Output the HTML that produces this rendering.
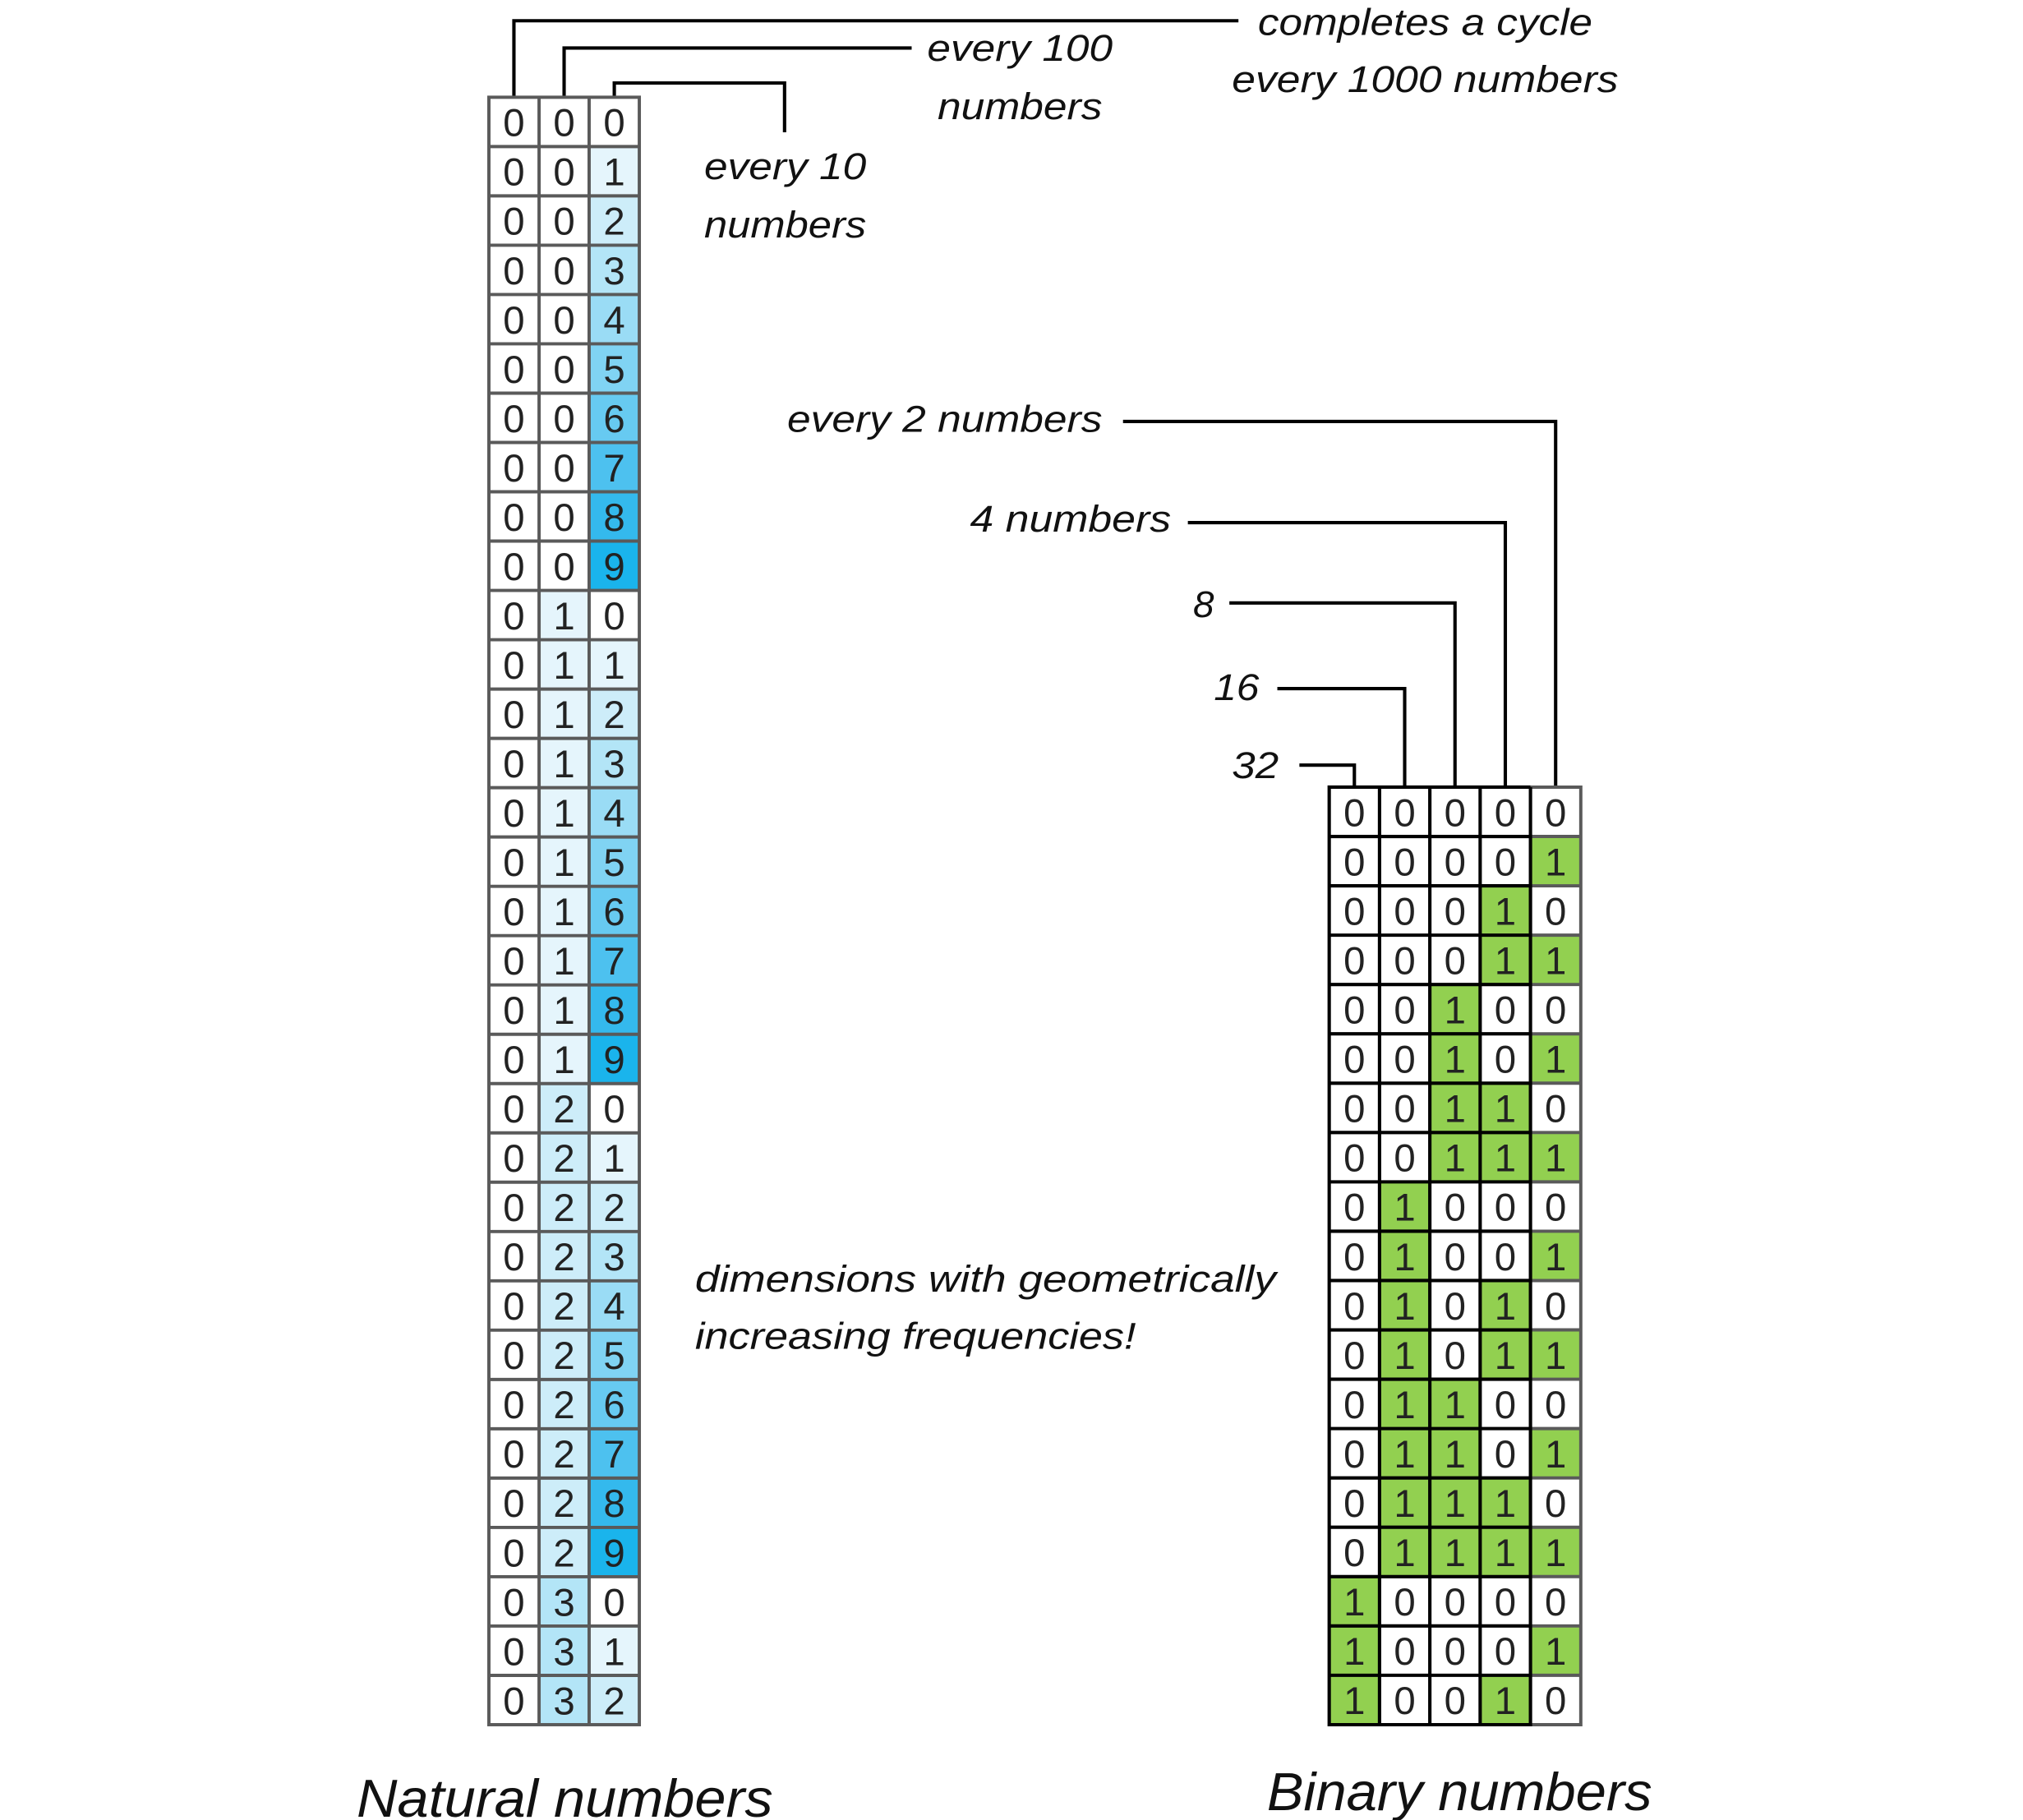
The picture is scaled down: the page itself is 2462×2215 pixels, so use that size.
<!DOCTYPE html>
<html><head><meta charset="utf-8"><style>
html,body{margin:0;padding:0;background:#fff;}
svg{display:block;}
.d{font-family:"Liberation Sans",sans-serif;font-size:30px;fill:#222;text-anchor:middle;}
.l{font-family:"Liberation Sans",sans-serif;font-style:italic;font-size:29px;fill:#111;}
.t{font-family:"Liberation Sans",sans-serif;font-style:italic;font-size:41px;fill:#111;}
</style></head><body>
<svg width="2462" height="2215" viewBox="0 0 1560 1403.5" xmlns="http://www.w3.org/2000/svg">
<rect x="0" y="0" width="1560" height="1403.5" fill="#fff"/>
<!-- connectors -->
<g fill="none" stroke="#000" stroke-width="2.6">
<path d="M396.3 75V16H955"/>
<path d="M435 75V37H703"/>
<path d="M473.7 75V64H605V102"/>
<path d="M1199.6 607V325H866"/>
<path d="M1160.8 607V403H916"/>
<path d="M1122 607V465H948"/>
<path d="M1083.2 607V531H985"/>
<path d="M1044.4 607V590H1002"/>
</g>
<!-- labels -->
<text class="l" x="970" y="27" textLength="258" lengthAdjust="spacingAndGlyphs">completes a cycle</text>
<text class="l" x="950" y="71" textLength="298" lengthAdjust="spacingAndGlyphs">every 1000 numbers</text>
<text class="l" x="715" y="47" textLength="143" lengthAdjust="spacingAndGlyphs">every 100</text>
<text class="l" x="723" y="92" textLength="127" lengthAdjust="spacingAndGlyphs">numbers</text>
<text class="l" x="543" y="138" textLength="125" lengthAdjust="spacingAndGlyphs">every 10</text>
<text class="l" x="543" y="183" textLength="125" lengthAdjust="spacingAndGlyphs">numbers</text>
<text class="l" x="607" y="333" textLength="243" lengthAdjust="spacingAndGlyphs">every 2 numbers</text>
<text class="l" x="748" y="410" textLength="155" lengthAdjust="spacingAndGlyphs">4 numbers</text>
<text class="l" x="920" y="476">8</text>
<text class="l" x="936" y="540" textLength="35" lengthAdjust="spacingAndGlyphs">16</text>
<text class="l" x="950" y="600" textLength="36" lengthAdjust="spacingAndGlyphs">32</text>
<text class="l" x="536" y="996" textLength="448" lengthAdjust="spacingAndGlyphs">dimensions with geometrically</text>
<text class="l" x="536" y="1040" textLength="340" lengthAdjust="spacingAndGlyphs">increasing frequencies!</text>
<text class="t" x="275" y="1401" textLength="321" lengthAdjust="spacingAndGlyphs">Natural numbers</text>
<text class="t" x="977" y="1396" textLength="297" lengthAdjust="spacingAndGlyphs">Binary numbers</text>

<!-- LEFT GRID fills -->
<g>
<rect x="377" y="75" width="116" height="1255" fill="#fff"/>
<!-- middle column fills -->
<rect x="415.7" y="455.3" width="38.6" height="380.3" fill="#e5f5fc"/>
<rect x="415.7" y="835.6" width="38.6" height="380.3" fill="#cdedf9"/>
<rect x="415.7" y="1215.9" width="38.6" height="114.1" fill="#b3e5f7"/>
</g>
<g id="c3">
<rect x="454.3" y="113.03" width="38.7" height="38.03" fill="#e5f5fc"/>
<rect x="454.3" y="151.06" width="38.7" height="38.03" fill="#cdedf9"/>
<rect x="454.3" y="189.09" width="38.7" height="38.03" fill="#b3e5f7"/>
<rect x="454.3" y="227.12" width="38.7" height="38.03" fill="#9adcf5"/>
<rect x="454.3" y="265.15" width="38.7" height="38.03" fill="#80d3f3"/>
<rect x="454.3" y="303.18" width="38.7" height="38.03" fill="#67caf1"/>
<rect x="454.3" y="341.21" width="38.7" height="38.03" fill="#4dc1ef"/>
<rect x="454.3" y="379.24" width="38.7" height="38.03" fill="#34b9ed"/>
<rect x="454.3" y="417.27" width="38.7" height="38.03" fill="#1ab4ec"/>
</g>
<use href="#c3" y="380.3"/>
<use href="#c3" y="760.6"/>
<rect x="454.3" y="1253.93" width="38.7" height="38.03" fill="#e5f5fc"/>
<rect x="454.3" y="1291.96" width="38.7" height="38.04" fill="#cdedf9"/>

<!-- LEFT GRID lines -->
<g fill="none" stroke="#5a5a5a" stroke-width="2.5">
<rect x="377" y="75" width="116" height="1255"/>
<path d="M415.7 75V1330M454.3 75V1330
M377 113.03H493M377 151.06H493M377 189.09H493M377 227.12H493M377 265.15H493M377 303.18H493M377 341.21H493M377 379.24H493M377 417.27H493M377 455.3H493
M377 493.33H493M377 531.36H493M377 569.39H493M377 607.42H493M377 645.45H493M377 683.48H493M377 721.51H493M377 759.54H493M377 797.57H493M377 835.6H493
M377 873.63H493M377 911.66H493M377 949.69H493M377 987.72H493M377 1025.75H493M377 1063.78H493M377 1101.81H493M377 1139.84H493M377 1177.87H493M377 1215.9H493
M377 1253.93H493M377 1291.96H493"/>
</g>

<!-- LEFT digits -->
<g class="d">
<g transform="translate(0,75)"><text x="396.3" y="30">0</text><text x="435" y="30">0</text><text x="473.7" y="30">0</text></g>
<g transform="translate(0,113.03)"><text x="396.3" y="30">0</text><text x="435" y="30">0</text><text x="473.7" y="30">1</text></g>
<g transform="translate(0,151.06)"><text x="396.3" y="30">0</text><text x="435" y="30">0</text><text x="473.7" y="30">2</text></g>
<g transform="translate(0,189.09)"><text x="396.3" y="30">0</text><text x="435" y="30">0</text><text x="473.7" y="30">3</text></g>
<g transform="translate(0,227.12)"><text x="396.3" y="30">0</text><text x="435" y="30">0</text><text x="473.7" y="30">4</text></g>
<g transform="translate(0,265.15)"><text x="396.3" y="30">0</text><text x="435" y="30">0</text><text x="473.7" y="30">5</text></g>
<g transform="translate(0,303.18)"><text x="396.3" y="30">0</text><text x="435" y="30">0</text><text x="473.7" y="30">6</text></g>
<g transform="translate(0,341.21)"><text x="396.3" y="30">0</text><text x="435" y="30">0</text><text x="473.7" y="30">7</text></g>
<g transform="translate(0,379.24)"><text x="396.3" y="30">0</text><text x="435" y="30">0</text><text x="473.7" y="30">8</text></g>
<g transform="translate(0,417.27)"><text x="396.3" y="30">0</text><text x="435" y="30">0</text><text x="473.7" y="30">9</text></g>
<g transform="translate(0,455.3)"><text x="396.3" y="30">0</text><text x="435" y="30">1</text><text x="473.7" y="30">0</text></g>
<g transform="translate(0,493.33)"><text x="396.3" y="30">0</text><text x="435" y="30">1</text><text x="473.7" y="30">1</text></g>
<g transform="translate(0,531.36)"><text x="396.3" y="30">0</text><text x="435" y="30">1</text><text x="473.7" y="30">2</text></g>
<g transform="translate(0,569.39)"><text x="396.3" y="30">0</text><text x="435" y="30">1</text><text x="473.7" y="30">3</text></g>
<g transform="translate(0,607.42)"><text x="396.3" y="30">0</text><text x="435" y="30">1</text><text x="473.7" y="30">4</text></g>
<g transform="translate(0,645.45)"><text x="396.3" y="30">0</text><text x="435" y="30">1</text><text x="473.7" y="30">5</text></g>
<g transform="translate(0,683.48)"><text x="396.3" y="30">0</text><text x="435" y="30">1</text><text x="473.7" y="30">6</text></g>
<g transform="translate(0,721.51)"><text x="396.3" y="30">0</text><text x="435" y="30">1</text><text x="473.7" y="30">7</text></g>
<g transform="translate(0,759.54)"><text x="396.3" y="30">0</text><text x="435" y="30">1</text><text x="473.7" y="30">8</text></g>
<g transform="translate(0,797.57)"><text x="396.3" y="30">0</text><text x="435" y="30">1</text><text x="473.7" y="30">9</text></g>
<g transform="translate(0,835.6)"><text x="396.3" y="30">0</text><text x="435" y="30">2</text><text x="473.7" y="30">0</text></g>
<g transform="translate(0,873.63)"><text x="396.3" y="30">0</text><text x="435" y="30">2</text><text x="473.7" y="30">1</text></g>
<g transform="translate(0,911.66)"><text x="396.3" y="30">0</text><text x="435" y="30">2</text><text x="473.7" y="30">2</text></g>
<g transform="translate(0,949.69)"><text x="396.3" y="30">0</text><text x="435" y="30">2</text><text x="473.7" y="30">3</text></g>
<g transform="translate(0,987.72)"><text x="396.3" y="30">0</text><text x="435" y="30">2</text><text x="473.7" y="30">4</text></g>
<g transform="translate(0,1025.75)"><text x="396.3" y="30">0</text><text x="435" y="30">2</text><text x="473.7" y="30">5</text></g>
<g transform="translate(0,1063.78)"><text x="396.3" y="30">0</text><text x="435" y="30">2</text><text x="473.7" y="30">6</text></g>
<g transform="translate(0,1101.81)"><text x="396.3" y="30">0</text><text x="435" y="30">2</text><text x="473.7" y="30">7</text></g>
<g transform="translate(0,1139.84)"><text x="396.3" y="30">0</text><text x="435" y="30">2</text><text x="473.7" y="30">8</text></g>
<g transform="translate(0,1177.87)"><text x="396.3" y="30">0</text><text x="435" y="30">2</text><text x="473.7" y="30">9</text></g>
<g transform="translate(0,1215.9)"><text x="396.3" y="30">0</text><text x="435" y="30">3</text><text x="473.7" y="30">0</text></g>
<g transform="translate(0,1253.93)"><text x="396.3" y="30">0</text><text x="435" y="30">3</text><text x="473.7" y="30">1</text></g>
<g transform="translate(0,1291.96)"><text x="396.3" y="30">0</text><text x="435" y="30">3</text><text x="473.7" y="30">2</text></g>
</g>

<!-- RIGHT GRID fills -->
<rect x="1025" y="607" width="194" height="723" fill="#fff"/>
<g fill="#92d050">
<!-- col 16 (x1025): rows 16-18 -->
<rect x="1025" y="1215.8" width="38.8" height="114.2"/>
<!-- col 8 (x1063.8): rows 8-15 -->
<rect x="1063.8" y="911.4" width="38.8" height="304.4"/>
<!-- col 4 (x1102.6): rows 4-7, 12-15 -->
<rect x="1102.6" y="759.2" width="38.8" height="152.2"/>
<rect x="1102.6" y="1063.6" width="38.8" height="152.2"/>
<!-- col 2 (x1141.4): rows 2,3,6,7,10,11,14,15,18 -->
<rect x="1141.4" y="683.1" width="38.8" height="76.1"/>
<rect x="1141.4" y="835.3" width="38.8" height="76.1"/>
<rect x="1141.4" y="987.5" width="38.8" height="76.1"/>
<rect x="1141.4" y="1139.7" width="38.8" height="76.1"/>
<rect x="1141.4" y="1291.9" width="38.8" height="38.1"/>
<!-- col 1 (x1180.2): odd rows -->
<rect x="1180.2" y="645.05" width="38.8" height="38.05"/>
<rect x="1180.2" y="721.15" width="38.8" height="38.05"/>
<rect x="1180.2" y="797.25" width="38.8" height="38.05"/>
<rect x="1180.2" y="873.35" width="38.8" height="38.05"/>
<rect x="1180.2" y="949.45" width="38.8" height="38.05"/>
<rect x="1180.2" y="1025.55" width="38.8" height="38.05"/>
<rect x="1180.2" y="1101.65" width="38.8" height="38.05"/>
<rect x="1180.2" y="1177.75" width="38.8" height="38.05"/>
<rect x="1180.2" y="1253.85" width="38.8" height="38.05"/>
</g>
<!-- RIGHT GRID lines -->
<g fill="none" stroke="#5a5a5a" stroke-width="2.5">
<path d="M1180.2 607H1219V1330H1180.2
M1180.2 645.05H1219M1180.2 683.1H1219M1180.2 721.15H1219M1180.2 759.2H1219M1180.2 797.25H1219M1180.2 835.3H1219M1180.2 873.35H1219M1180.2 911.4H1219M1180.2 949.45H1219
M1180.2 987.5H1219M1180.2 1025.55H1219M1180.2 1063.6H1219M1180.2 1101.65H1219M1180.2 1139.7H1219M1180.2 1177.75H1219M1180.2 1215.8H1219M1180.2 1253.85H1219M1180.2 1291.9H1219"/>
</g>
<g fill="none" stroke="#000" stroke-width="2.6">
<path d="M1180.2 607H1025V1330H1180.2V607
M1063.8 607V1330M1102.6 607V1330M1141.4 607V1330
M1025 645.05H1180.2M1025 683.1H1180.2M1025 721.15H1180.2M1025 759.2H1180.2M1025 797.25H1180.2M1025 835.3H1180.2M1025 873.35H1180.2M1025 911.4H1180.2M1025 949.45H1180.2
M1025 987.5H1180.2M1025 1025.55H1180.2M1025 1063.6H1180.2M1025 1101.65H1180.2M1025 1139.7H1180.2M1025 1177.75H1180.2M1025 1215.8H1180.2M1025 1253.85H1180.2M1025 1291.9H1180.2"/>
</g>
<!-- RIGHT digits -->
<g class="d">
<g transform="translate(0,607)"><text x="1044.4" y="30">0</text><text x="1083.2" y="30">0</text><text x="1122" y="30">0</text><text x="1160.8" y="30">0</text><text x="1199.6" y="30">0</text></g>
<g transform="translate(0,645.05)"><text x="1044.4" y="30">0</text><text x="1083.2" y="30">0</text><text x="1122" y="30">0</text><text x="1160.8" y="30">0</text><text x="1199.6" y="30">1</text></g>
<g transform="translate(0,683.1)"><text x="1044.4" y="30">0</text><text x="1083.2" y="30">0</text><text x="1122" y="30">0</text><text x="1160.8" y="30">1</text><text x="1199.6" y="30">0</text></g>
<g transform="translate(0,721.15)"><text x="1044.4" y="30">0</text><text x="1083.2" y="30">0</text><text x="1122" y="30">0</text><text x="1160.8" y="30">1</text><text x="1199.6" y="30">1</text></g>
<g transform="translate(0,759.2)"><text x="1044.4" y="30">0</text><text x="1083.2" y="30">0</text><text x="1122" y="30">1</text><text x="1160.8" y="30">0</text><text x="1199.6" y="30">0</text></g>
<g transform="translate(0,797.25)"><text x="1044.4" y="30">0</text><text x="1083.2" y="30">0</text><text x="1122" y="30">1</text><text x="1160.8" y="30">0</text><text x="1199.6" y="30">1</text></g>
<g transform="translate(0,835.3)"><text x="1044.4" y="30">0</text><text x="1083.2" y="30">0</text><text x="1122" y="30">1</text><text x="1160.8" y="30">1</text><text x="1199.6" y="30">0</text></g>
<g transform="translate(0,873.35)"><text x="1044.4" y="30">0</text><text x="1083.2" y="30">0</text><text x="1122" y="30">1</text><text x="1160.8" y="30">1</text><text x="1199.6" y="30">1</text></g>
<g transform="translate(0,911.4)"><text x="1044.4" y="30">0</text><text x="1083.2" y="30">1</text><text x="1122" y="30">0</text><text x="1160.8" y="30">0</text><text x="1199.6" y="30">0</text></g>
<g transform="translate(0,949.45)"><text x="1044.4" y="30">0</text><text x="1083.2" y="30">1</text><text x="1122" y="30">0</text><text x="1160.8" y="30">0</text><text x="1199.6" y="30">1</text></g>
<g transform="translate(0,987.5)"><text x="1044.4" y="30">0</text><text x="1083.2" y="30">1</text><text x="1122" y="30">0</text><text x="1160.8" y="30">1</text><text x="1199.6" y="30">0</text></g>
<g transform="translate(0,1025.55)"><text x="1044.4" y="30">0</text><text x="1083.2" y="30">1</text><text x="1122" y="30">0</text><text x="1160.8" y="30">1</text><text x="1199.6" y="30">1</text></g>
<g transform="translate(0,1063.6)"><text x="1044.4" y="30">0</text><text x="1083.2" y="30">1</text><text x="1122" y="30">1</text><text x="1160.8" y="30">0</text><text x="1199.6" y="30">0</text></g>
<g transform="translate(0,1101.65)"><text x="1044.4" y="30">0</text><text x="1083.2" y="30">1</text><text x="1122" y="30">1</text><text x="1160.8" y="30">0</text><text x="1199.6" y="30">1</text></g>
<g transform="translate(0,1139.7)"><text x="1044.4" y="30">0</text><text x="1083.2" y="30">1</text><text x="1122" y="30">1</text><text x="1160.8" y="30">1</text><text x="1199.6" y="30">0</text></g>
<g transform="translate(0,1177.75)"><text x="1044.4" y="30">0</text><text x="1083.2" y="30">1</text><text x="1122" y="30">1</text><text x="1160.8" y="30">1</text><text x="1199.6" y="30">1</text></g>
<g transform="translate(0,1215.8)"><text x="1044.4" y="30">1</text><text x="1083.2" y="30">0</text><text x="1122" y="30">0</text><text x="1160.8" y="30">0</text><text x="1199.6" y="30">0</text></g>
<g transform="translate(0,1253.85)"><text x="1044.4" y="30">1</text><text x="1083.2" y="30">0</text><text x="1122" y="30">0</text><text x="1160.8" y="30">0</text><text x="1199.6" y="30">1</text></g>
<g transform="translate(0,1291.9)"><text x="1044.4" y="30">1</text><text x="1083.2" y="30">0</text><text x="1122" y="30">0</text><text x="1160.8" y="30">1</text><text x="1199.6" y="30">0</text></g>
</g>
</svg>
</body></html>
